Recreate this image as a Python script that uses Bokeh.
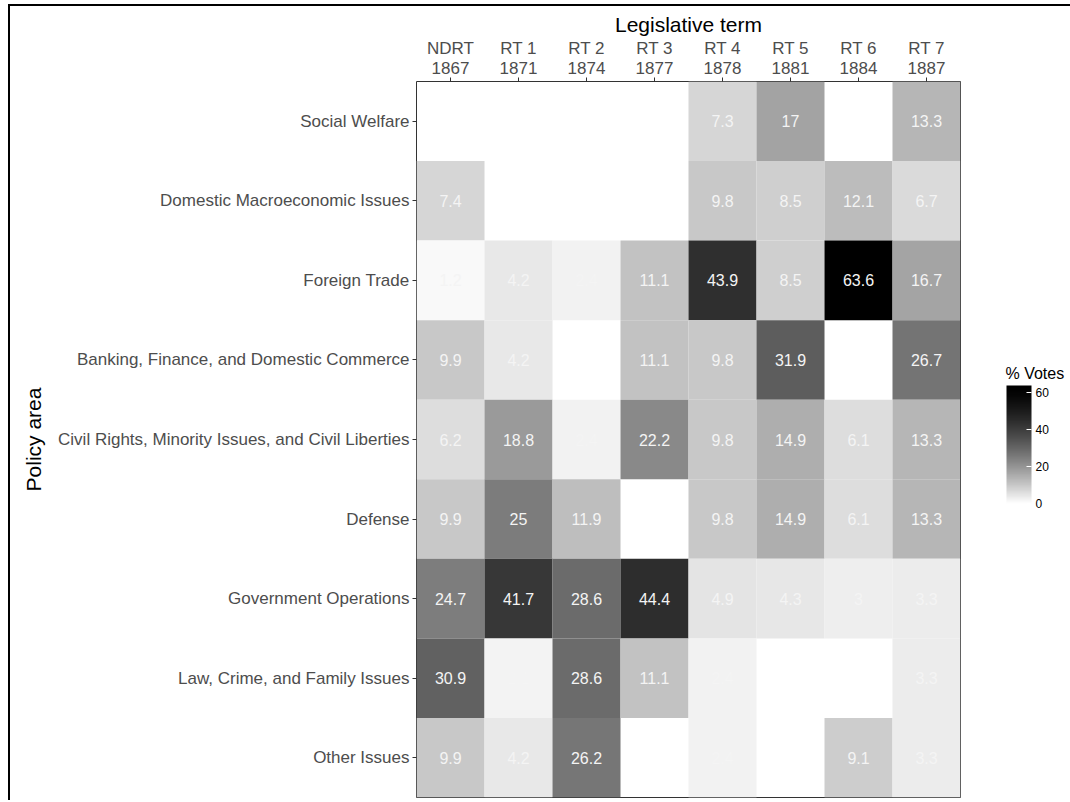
from bokeh.plotting import figure
from bokeh.models import (ColumnDataSource, LinearColorMapper, ColorBar, FixedTicker,
                          FactorRange, Label)
from bokeh.embed import file_html
from bokeh.resources import INLINE
from bokeh.core.properties import value

# ---------------- data ----------------
terms = ["NDRT", "RT 1", "RT 2", "RT 3", "RT 4", "RT 5", "RT 6", "RT 7"]
years = ["1867", "1871", "1874", "1877", "1878", "1881", "1884", "1887"]
areas = [
    "Social Welfare",
    "Domestic Macroeconomic Issues",
    "Foreign Trade",
    "Banking, Finance, and Domestic Commerce",
    "Civil Rights, Minority Issues, and Civil Liberties",
    "Defense",
    "Government Operations",
    "Law, Crime, and Family Issues",
    "Other Issues",
]
social_welfare = [None, None, None, None, 7.3, 17, None, 13.3]
domestic_macro = [7.4, None, None, None, 9.8, 8.5, 12.1, 6.7]
foreign_trade = [1.2, 4.2, 2.4, 11.1, 43.9, 8.5, 63.6, 16.7]
banking = [9.9, 4.2, None, 11.1, 9.8, 31.9, None, 26.7]
civil_rights = [6.2, 18.8, 2.4, 22.2, 9.8, 14.9, 6.1, 13.3]
defense = [9.9, 25, 11.9, None, 9.8, 14.9, 6.1, 13.3]
gov_ops = [24.7, 41.7, 28.6, 44.4, 4.9, 4.3, 3, 3.3]
law_crime = [30.9, 2.1, 28.6, 11.1, 2.4, None, None, 3.3]
other_issues = [9.9, 4.2, 26.2, None, 2.4, None, 9.1, 3.3]
rows = [social_welfare, domestic_macro, foreign_trade, banking, civil_rights,
        defense, gov_ops, law_crime, other_issues]
legend_ticks = [0, 20, 40, 60]
value_max = 63.6

# ---------------- build table ----------------
col_factors = [f"{t}\n{y}" for t, y in zip(terms, years)]
xs, ys, vals, labels = [], [], [], []
for area, row in zip(areas, rows):
    for cf, v in zip(col_factors, row):
        if v is None:
            continue
        xs.append(cf)
        ys.append(area)
        vals.append(v)
        labels.append(f"{v:g}")
source = ColumnDataSource(dict(term=xs, area=ys, pct=vals, label=labels))

# grey ramp white -> black
palette = []
for i in range(256):
    g = int(round(255 * (1 - i / 255) ** 1.45))
    palette.append("#%02x%02x%02x" % (g, g, g))
mapper = LinearColorMapper(palette=palette, low=0, high=value_max)

FONT = "Liberation Sans"

# layout (figure sits at the page origin)
W, H = 1070, 800
LEFT, TOP = 416, 81
FRAME_W, FRAME_H = 544, 716

p = figure(
    width=W, height=H,
    x_range=FactorRange(factors=col_factors),
    y_range=FactorRange(factors=list(reversed(areas))),
    x_axis_location="above",
    toolbar_location=None, output_backend="svg",
    min_border_left=LEFT, min_border_right=W - LEFT - FRAME_W,
    min_border_top=TOP, min_border_bottom=H - TOP - FRAME_H,
)
p.border_fill_color = None
p.background_fill_color = "white"
p.outline_line_color = "#333333"
p.outline_line_width = 1
p.xgrid.grid_line_color = None
p.ygrid.grid_line_color = None
p.styles = {
    "background-color": "white",
    "background-image": "linear-gradient(#000,#000), linear-gradient(#000,#000)",
    "background-size": "2px 796px, 1062px 2px",
    "background-position": "8px 4px, 8px 4px",
    "background-repeat": "no-repeat, no-repeat",
}

p.rect(x="term", y="area", width=1, height=1, source=source,
       fill_color={"field": "pct", "transform": mapper}, line_color=None)
p.text(x="term", y="area", text="label", source=source,
       text_align="center", text_baseline="middle",
       text_font=value(FONT), text_font_size="16px", text_color="#f4f4f4")

for ax in (p.xaxis[0], p.yaxis[0]):
    ax.axis_line_color = None
    ax.major_tick_line_color = "#333333"
    ax.major_tick_out = 4
    ax.major_tick_in = 0
    ax.minor_tick_line_color = None
    ax.major_label_text_font = FONT
    ax.major_label_text_font_size = "17px"
    ax.major_label_text_color = "#4d4d4d"
    ax.axis_label_text_font = FONT
    ax.axis_label_text_font_size = "21px"
    ax.axis_label_text_font_style = "normal"
    ax.axis_label_text_color = "#000000"

p.xaxis.axis_label = "Legislative term"
p.xaxis.major_label_standoff = 0
p.xaxis.major_label_text_line_height = 1.05
p.xaxis.axis_label_standoff = 0
p.yaxis.axis_label = "Policy area"
p.yaxis.major_label_standoff = 3
p.yaxis.axis_label_standoff = 10

BAR_X, BAR_Y, BAR_H = 45, 294, 118

# legend title (first right-hand panel), then the colour bar (second panel)
legend_title = Label(
    x=BAR_X, y=BAR_Y + BAR_H + 4, x_units="screen", y_units="screen",
    text="% Votes", text_font=FONT, text_font_size="16px", text_color="#000000",
    text_align="left", text_baseline="bottom",
)
p.add_layout(legend_title, "right")

cb = ColorBar(
    color_mapper=mapper,
    ticker=FixedTicker(ticks=legend_ticks),
    width=25, height=BAR_H,
    location=(-13, BAR_Y),
    padding=0, margin=0,
    major_label_text_font=FONT, major_label_text_font_size="12px",
    major_label_text_color="#000000",
    label_standoff=4,
    major_tick_line_color="white", major_tick_in=5, major_tick_out=0,
    bar_line_color=None, border_line_color=None,
    background_fill_color=None,
)
p.add_layout(cb, "right")

open("out.html", "w").write(file_html(p, INLINE))
